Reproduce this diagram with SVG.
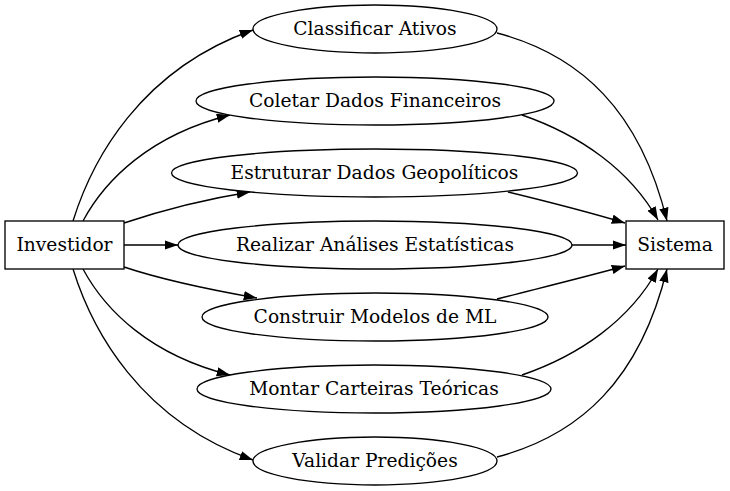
<svg xmlns="http://www.w3.org/2000/svg" width="730" height="491" viewBox="0 0 730 491">
<defs>
<marker id="arr" markerUnits="userSpaceOnUse" markerWidth="14" markerHeight="10" refX="13.3" refY="4.7" orient="auto">
<path d="M0,0 L13.3,4.7 L0,9.4 z" fill="#000"/>
</marker>
<style>
.n{fill:#fff;stroke:#000;stroke-width:1.33}
.t{font-family:"DejaVu Serif","Liberation Serif",serif;font-size:18.67px;text-anchor:middle;fill:#000}
.e{fill:none;stroke:#000;stroke-width:1.33;marker-end:url(#arr)}
</style>
</defs>
<rect width="730" height="491" fill="#fff"/>
<g id="edges">
<path class="e" d="M73,221 C92,160 140,70 253,30"/>
<path class="e" d="M83,221 C105,180 150,135 230,115"/>
<path class="e" d="M124,223 C160,211 200,200 250,192"/>
<path class="e" d="M124,245 L178,245"/>
<path class="e" d="M124,267 C160,279 200,288 257,298"/>
<path class="e" d="M83,269 C105,310 150,355 230,375"/>
<path class="e" d="M73,269 C92,330 140,420 253,460"/>
<path class="e" d="M497,33 C580,55 640,110 667,221"/>
<path class="e" d="M522,115 C580,135 630,170 658,220"/>
<path class="e" d="M508,192 C545,201 585,211 625,223"/>
<path class="e" d="M572,245 L626,245"/>
<path class="e" d="M497,299 C540,288 585,277 625,266"/>
<path class="e" d="M522,375 C580,355 630,320 658,269"/>
<path class="e" d="M497,457 C580,435 640,380 667,269"/>
</g>
<g id="investidor"><rect class="n" x="5" y="221" width="119" height="48"/><text class="t" x="64.5" y="251">Investidor</text></g>
<g id="sistema"><rect class="n" x="626" y="221" width="98" height="48"/><text class="t" x="675" y="251">Sistema</text></g>
<g id="classificar"><ellipse class="n" cx="375" cy="29" rx="122" ry="24"/><text class="t" x="375" y="35">Classificar Ativos</text></g>
<g id="coletar"><ellipse class="n" cx="375" cy="101" rx="179" ry="24"/><text class="t" x="375" y="107">Coletar Dados Financeiros</text></g>
<g id="estruturar"><ellipse class="n" cx="374.5" cy="173" rx="203" ry="24"/><text class="t" x="374.5" y="179">Estruturar Dados Geopolíticos</text></g>
<g id="realizar"><ellipse class="n" cx="375" cy="245" rx="197" ry="24"/><text class="t" x="375" y="251">Realizar Análises Estatísticas</text></g>
<g id="construir"><ellipse class="n" cx="375" cy="317" rx="173" ry="24"/><text class="t" x="375" y="323">Construir Modelos de ML</text></g>
<g id="montar"><ellipse class="n" cx="374" cy="389" rx="177" ry="24"/><text class="t" x="374" y="395">Montar Carteiras Teóricas</text></g>
<g id="validar"><ellipse class="n" cx="375" cy="461" rx="122" ry="24"/><text class="t" x="375" y="467">Validar Predições</text></g>
</svg>
